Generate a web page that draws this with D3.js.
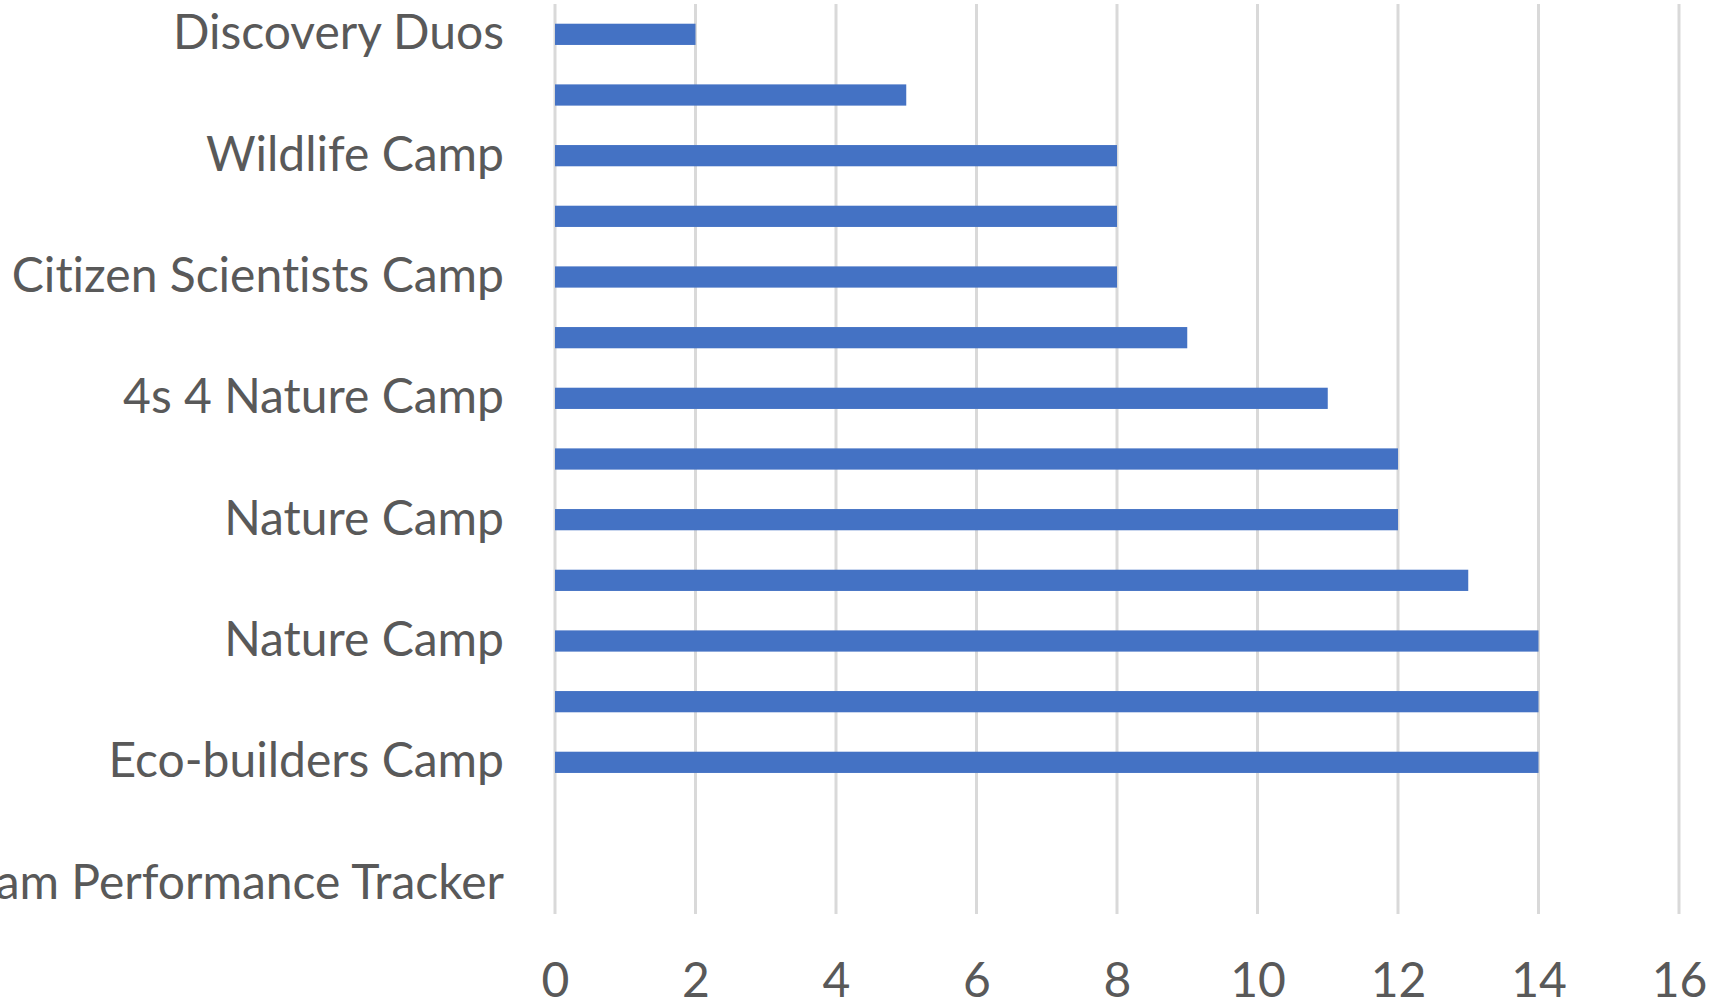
<!DOCTYPE html>
<html>
<head>
<meta charset="utf-8">
<script src="https://cdn.jsdelivr.net/npm/d3@7"></script>
<style>
  html, body { margin: 0; padding: 0; background: #ffffff; }
  svg { display: block; }
  text { font-family: Lato, "Open Sans", sans-serif; fill: #595959; font-variant-ligatures: none; }
</style>
</head>
<body>
<div class="chart"></div>
<script>
const width = 1724;
const height = 1007;

// categories top to bottom; "" = label Excel skipped for lack of room
const labels = [
	"Discovery Duos", "", "Wildlife Camp", "", "Citizen Scientists Camp", "",
	"4s 4 Nature Camp", "", "Nature Camp", "", "Nature Camp", "",
	"Eco-builders Camp", "", "Program Performance Tracker"
];
const values = [2, 5, 8, 8, 8, 9, 11, 12, 12, 13, 14, 14, 14, null, null];
const x_ticks = [0, 2, 4, 6, 8, 10, 12, 14, 16];

const plot_left = 555;
const plot_right = 1679;
const plot_top = 4;
const plot_bottom = 914;
const font_size = 48;

let svg = d3.select(".chart").append("svg")
	.attr("width", width)
	.attr("height", height);

let xScale = d3.scaleLinear()
	.domain([0, 16])
	.range([plot_left, plot_right]);

let yScale = d3.scaleBand()
	.domain(d3.range(labels.length))
	.range([plot_top, plot_bottom])
	.paddingInner(0.65)
	.paddingOuter(0.325);

// vertical gridlines
svg.append("g")
	.selectAll("line")
	.data(x_ticks)
	.enter().append("line")
	.attr("x1", d => xScale(d))
	.attr("x2", d => xScale(d))
	.attr("y1", plot_top)
	.attr("y2", plot_bottom)
	.attr("stroke", "#d9d9d9")
	.attr("stroke-width", 3);

// bars
svg.append("g")
	.selectAll("rect")
	.data(values.map((v, i) => ({v: v, i: i})).filter(d => d.v != null))
	.enter().append("rect")
	.attr("x", xScale(0))
	.attr("y", d => yScale(d.i))
	.attr("width", d => xScale(d.v) - xScale(0))
	.attr("height", yScale.bandwidth())
	.attr("fill", "#4472c4");

// x axis labels
let xAxis = d3.axisBottom(xScale)
	.tickValues(x_ticks)
	.tickSize(0)
	.tickPadding(0);
let gx = svg.append("g")
	.attr("transform", "translate(0," + 997 + ")")
	.call(xAxis);
gx.select(".domain").remove();
gx.selectAll("text")
	.attr("dy", 0)
	.attr("y", 0)
	.style("font-size", font_size + "px")
	.style("font-family", "Lato, sans-serif")
	.attr("fill", "#595959");

// y axis labels (only the ones Excel shows)
let yAxis = d3.axisLeft(yScale)
	.tickFormat(i => labels[i])
	.tickSize(0)
	.tickPadding(0);
let gy = svg.append("g")
	.attr("transform", "translate(504,0)")
	.call(yAxis);
gy.select(".domain").remove();
gy.selectAll("text")
	.attr("dy", 15)
	.attr("x", 0)
	.style("font-size", font_size + "px")
	.style("font-family", "Lato, sans-serif")
	.attr("fill", "#595959");
</script>
</body>
</html>
